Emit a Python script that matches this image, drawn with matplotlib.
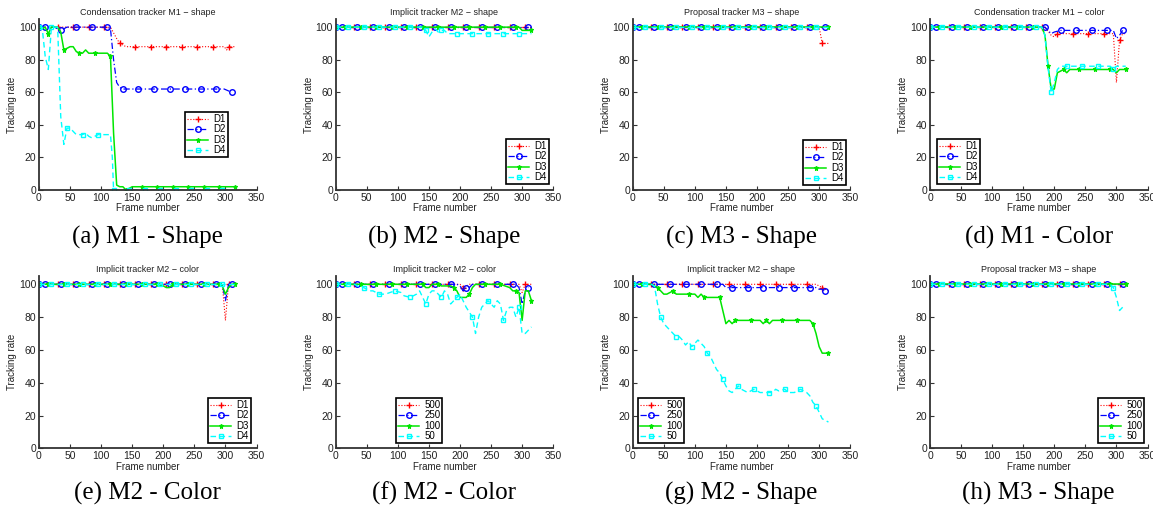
import numpy as np
import matplotlib
matplotlib.use('Agg')
import matplotlib.pyplot as plt
from matplotlib.lines import Line2D

plt.rcParams['font.family'] = ['Liberation Sans', 'DejaVu Sans']

# (frame, tracking rate %) for every run; one list per curve
a_d1 = [(0,100),(30,100),(55,100),(80,100),(105,100),(115,100),(125,93),(130,90),(140,88),(155,88),(180,88),(205,88),(230,88),(255,88),(280,88),(298,88),(302,86),(305,88),(315,88)]
a_d2 = [(0,100),(10,100),(25,100),(35,98),(45,100),(60,100),(85,100),(110,100),(115,99),(120,80),(125,66),(130,63),(135,62),(160,62),(185,62),(210,62),(235,62),(260,62),(285,62),(298,62),(310,60)]
a_d3 = [(0,100),(5,99),(10,100),(15,96),(20,100),(30,100),(35,97),(40,86),(45,87),(50,88),(55,88),(60,85),(65,84),(70,84),(75,86),(80,84),(90,84),(100,84),(110,84),(115,82),(120,35),(125,3),(130,2),(135,2),(140,0),(145,1),(150,2),(165,2),(190,2),(215,2),(240,2),(265,2),(290,2),(315,2)]
a_d4 = [(0,100),(5,100),(10,82),(15,74),(20,100),(25,100),(30,100),(35,45),(40,28),(45,38),(50,38),(55,36),(60,34),(70,34),(75,35),(80,33),(85,32),(95,34),(105,34),(115,34),(118,20),(120,0),(145,0),(170,0),(195,0),(220,0),(245,0),(270,0),(295,0),(315,0)]

b_d1 = [(0,100),(30,100),(55,100),(80,100),(105,100),(130,100),(155,100),(180,100),(205,100),(230,100),(255,100),(280,100),(305,100),(315,100)]
b_d2 = [(0,100),(10,100),(35,100),(60,100),(85,100),(110,100),(135,100),(160,100),(185,100),(210,100),(235,100),(260,100),(285,100),(310,100)]
b_d3 = [(0,100),(15,100),(40,100),(65,100),(90,100),(115,100),(140,100),(165,100),(190,100),(215,100),(240,100),(265,100),(290,100),(295,100),(300,98),(315,98)]
b_d4 = [(0,100),(20,100),(45,100),(70,100),(95,100),(120,100),(140,100),(145,98),(150,94),(155,97),(160,99),(165,97),(170,98),(175,98),(180,96),(195,96),(220,96),(245,96),(270,96),(295,96),(315,96)]

c_d1 = [(0,100),(30,100),(55,100),(80,100),(105,100),(130,100),(155,100),(180,100),(205,100),(230,100),(255,100),(280,100),(300,100),(305,90),(315,90)]
c_d2 = [(0,100),(10,100),(35,100),(60,100),(85,100),(110,100),(135,100),(160,100),(185,100),(210,100),(235,100),(260,100),(285,100),(310,100)]
c_d3 = [(0,100),(15,100),(40,100),(65,100),(90,100),(115,100),(140,100),(165,100),(190,100),(215,100),(240,100),(265,100),(290,100),(315,100)]
c_d4 = [(0,100),(20,100),(45,100),(70,100),(95,100),(120,100),(145,100),(170,100),(195,100),(220,100),(245,100),(270,100),(295,100),(315,100)]

d_d1 = [(0,100),(30,100),(55,100),(80,100),(105,100),(130,100),(155,100),(180,100),(185,100),(195,95),(200,94),(205,96),(230,96),(255,96),(280,96),(295,96),(300,66),(305,92),(310,96),(315,96)]
d_d2 = [(0,100),(10,100),(35,100),(60,100),(85,100),(110,100),(135,100),(160,100),(185,100),(195,96),(200,97),(210,98),(235,98),(260,98),(285,98),(295,98),(300,93),(305,95),(310,98)]
d_d3 = [(0,100),(15,100),(40,100),(65,100),(90,100),(115,100),(140,100),(165,100),(180,100),(185,95),(190,76),(195,62),(200,62),(205,72),(215,74),(220,72),(225,74),(240,74),(265,74),(290,74),(295,74),(300,72),(305,74),(315,74)]
d_d4 = [(0,100),(20,100),(45,100),(70,100),(95,100),(120,100),(145,100),(170,100),(180,100),(185,95),(190,75),(195,60),(200,66),(205,74),(210,76),(220,76),(245,76),(270,76),(290,76),(295,74),(300,76),(315,76)]

e_d1 = [(0,100),(30,100),(55,100),(80,100),(105,100),(130,100),(155,100),(180,100),(205,100),(230,100),(255,100),(280,100),(295,100),(300,78),(305,100),(315,100)]
e_d2 = [(0,100),(10,100),(35,100),(60,100),(85,100),(110,100),(135,100),(160,100),(185,100),(210,100),(235,100),(260,100),(285,100),(295,100),(300,90),(305,100),(310,100)]
e_d3 = [(0,100),(15,100),(40,100),(65,100),(90,100),(115,100),(140,100),(165,100),(190,100),(200,99),(205,98),(210,98),(215,100),(240,100),(265,100),(290,100),(295,99),(300,94),(305,98),(310,100),(315,100)]
e_d4 = [(0,100),(20,100),(45,100),(70,100),(95,100),(120,100),(145,100),(170,100),(195,100),(220,100),(245,100),(270,100),(295,100),(315,100)]

f_d1 = [(0,100),(30,100),(55,100),(80,100),(105,100),(130,100),(155,100),(180,100),(200,100),(205,98),(210,99),(215,100),(230,100),(255,100),(280,100),(295,100),(300,95),(305,100),(315,100)]
f_d2 = [(0,100),(10,100),(35,100),(60,100),(85,100),(110,100),(135,100),(160,100),(185,100),(195,100),(200,99),(205,96),(210,98),(215,98),(220,100),(235,100),(260,100),(285,100),(290,100),(295,98),(300,88),(305,96),(310,98)]
f_d3 = [(0,100),(15,100),(40,100),(65,100),(90,100),(115,100),(140,100),(145,98),(150,98),(155,100),(165,100),(170,99),(185,99),(190,98),(195,96),(200,92),(205,92),(210,92),(215,94),(220,98),(225,100),(240,100),(265,100),(280,98),(285,96),(290,96),(295,95),(300,78),(305,96),(310,96),(315,90)]
f_d4 = [(0,100),(20,100),(30,100),(40,98),(45,98),(55,96),(60,96),(70,94),(80,94),(95,96),(105,95),(110,93),(120,92),(130,94),(135,96),(140,92),(145,88),(150,94),(155,96),(160,96),(165,94),(170,92),(175,96),(180,94),(185,88),(195,92),(200,94),(205,90),(210,86),(220,80),(225,70),(230,80),(235,86),(245,90),(250,88),(255,86),(260,90),(265,88),(270,78),(275,84),(280,86),(285,86),(290,80),(295,86),(300,70),(305,70),(310,72),(315,74)]

g_d1 = [(0,100),(30,100),(55,100),(80,100),(105,100),(130,100),(155,100),(180,100),(205,100),(230,100),(255,100),(280,100),(295,100),(300,99),(305,98),(315,96)]
g_d2 = [(0,100),(10,100),(35,100),(60,100),(85,100),(110,100),(135,100),(145,100),(150,98),(160,98),(185,98),(210,98),(235,98),(260,98),(285,98),(295,98),(300,97),(305,97),(310,96)]
g_d3 = [(0,100),(15,100),(30,100),(35,99),(40,98),(45,96),(50,94),(55,94),(60,95),(65,96),(70,94),(80,94),(90,94),(100,94),(105,92),(110,94),(115,92),(120,92),(140,92),(145,84),(150,76),(155,78),(160,76),(165,78),(190,78),(205,78),(210,76),(215,78),(220,76),(225,78),(240,78),(265,78),(285,78),(290,76),(295,70),(300,62),(305,58),(315,58)]
g_d4 = [(0,100),(20,100),(30,100),(35,99),(40,88),(45,80),(50,76),(55,74),(60,72),(65,70),(70,68),(75,68),(80,66),(85,63),(90,65),(95,62),(100,64),(105,66),(110,64),(115,62),(120,58),(125,56),(130,52),(135,48),(140,46),(145,42),(150,38),(155,35),(160,34),(165,36),(170,38),(175,36),(180,35),(185,34),(195,36),(200,35),(205,34),(210,34),(220,34),(225,34),(230,36),(235,35),(245,36),(250,34),(260,34),(265,35),(270,36),(275,35),(280,34),(285,32),(290,28),(295,26),(300,22),(305,18),(310,17),(315,16)]

h_d1 = [(0,100),(30,100),(55,100),(80,100),(105,100),(130,100),(155,100),(180,100),(205,100),(230,100),(255,100),(280,100),(305,100),(315,100)]
h_d2 = [(0,100),(10,100),(35,100),(60,100),(85,100),(110,100),(135,100),(160,100),(185,100),(210,100),(235,100),(260,100),(285,100),(310,100)]
h_d3 = [(0,100),(15,100),(40,100),(65,100),(90,100),(115,100),(140,100),(165,100),(190,100),(215,100),(240,100),(265,100),(290,100),(315,100)]
h_d4 = [(0,100),(20,100),(45,100),(70,100),(95,100),(120,100),(145,100),(170,100),(195,100),(220,100),(245,100),(270,100),(290,100),(295,98),(300,92),(305,84),(310,86)]

titles = ['Condensation tracker M1 \u2212 shape', 'Implicit tracker M2 \u2212 shape',
          'Proposal tracker M3 \u2212 shape', 'Condensation tracker M1 \u2212 color',
          'Implicit tracker M2 \u2212 color', 'Implicit tracker M2 \u2212 color',
          'Implicit tracker M2 \u2212 shape', 'Proposal tracker M3 \u2212 shape']
captions = ['(a) M1 - Shape', '(b) M2 - Shape', '(c) M3 - Shape', '(d) M1 - Color',
            '(e) M2 - Color', '(f) M2 - Color', '(g) M2 - Shape', '(h) M3 - Shape']
datasets = ['D1', 'D2', 'D3', 'D4']
particles = ['500', '250', '100', '50']

panels = [
    ([a_d1, a_d2, a_d3, a_d4], datasets, (185, 112)),
    ([b_d1, b_d2, b_d3, b_d4], datasets, (506, 139)),
    ([c_d1, c_d2, c_d3, c_d4], datasets, (803, 140)),
    ([d_d1, d_d2, d_d3, d_d4], datasets, (937, 139)),
    ([e_d1, e_d2, e_d3, e_d4], datasets, (208, 398)),
    ([f_d1, f_d2, f_d3, f_d4], particles, (396, 398)),
    ([g_d1, g_d2, g_d3, g_d4], particles, (638, 398)),
    ([h_d1, h_d2, h_d3, h_d4], particles, (1098, 398)),
]

# line style, marker, first marked frame (then every 25 frames)
styles = [
    dict(color='#ff0000', ls=(0, (1, 1.6)), lw=0.8, marker='+', ms=5, mfc='#ff0000', mew=1.0, first=30),
    dict(color='#0000ff', ls=(0, (5, 2, 1, 2)), lw=0.9, marker='o', ms=4, mfc='none', mew=1.0, first=10),
    dict(color='#00e600', ls='-', lw=1.1, marker='*', ms=3.6, mfc='#00e600', mew=0.8, first=15),
    dict(color='#00ffff', ls=(0, (4, 2.5)), lw=1.0, marker='s', ms=3.5, mfc='none', mew=1.0, first=20),
]

W, H = 1153, 512
fig = plt.figure(figsize=(W / 100, H / 100), dpi=100)
lefts = [39, 335.7, 632.7, 930]
rows = [(190, 171), (448.3, 172.2)]

for i, (curves, labels, leg_xy) in enumerate(panels):
    base, hgt = rows[i // 4]
    left = lefts[i % 4]
    ax = fig.add_axes([left / W, 1 - base / H, 217.5 / W, hgt / H])

    handles = []
    for pts, st, lab in zip(curves, styles, labels):
        fr = np.array([p[0] for p in pts])
        rt = np.array([p[1] for p in pts])
        marks = [0] + list(range(st['first'], 320, 25))
        every = [j for j, f in enumerate(fr) if f in marks]
        ax.plot(fr, rt, color=st['color'], ls=st['ls'], lw=st['lw'],
                marker=st['marker'], ms=st['ms'], mfc=st['mfc'],
                mec=st['color'], mew=st['mew'], markevery=every)
        handles.append(Line2D([], [], color=st['color'], ls=st['ls'], lw=st['lw'],
                              marker=st['marker'], ms=st['ms'], mfc=st['mfc'],
                              mec=st['color'], mew=st['mew']))

    ax.set_xlim(0, 350)
    ax.set_ylim(0, 105)
    ax.set_xticks(range(0, 351, 50))
    ax.set_yticks(range(0, 101, 20))
    for s in ['top', 'right']:
        ax.spines[s].set_visible(False)
    for s in ['left', 'bottom']:
        ax.spines[s].set_linewidth(1.3)
        ax.spines[s].set_color('#333333')
    ax.tick_params(direction='in', length=3, width=0.8, color='#333333',
                   labelsize=7.5, pad=2, labelcolor='#222222')
    ax.set_title(titles[i], fontsize=6.5, pad=3, color='#222222')
    ax.set_xlabel('Frame number', fontsize=7, labelpad=0.5, color='#222222')
    ax.set_ylabel('Tracking rate', fontsize=7, labelpad=1, color='#222222')

    leg = ax.legend(handles, labels, loc='upper left',
                    bbox_to_anchor=(leg_xy[0] / W, 1 - leg_xy[1] / H),
                    bbox_transform=fig.transFigure, borderaxespad=0,
                    fontsize=7, fancybox=False, framealpha=1, edgecolor='black',
                    borderpad=0.2, labelspacing=0.05, handlelength=2.2,
                    handletextpad=0.5)
    leg.get_frame().set_linewidth(1.2)

    cy = 237 if i < 4 else 493
    fig.text((left + 108.7) / W, 1 - cy / H, captions[i], ha='center', va='center',
             family='Liberation Serif', fontsize=18)

fig.savefig('out.png', dpi=100)
